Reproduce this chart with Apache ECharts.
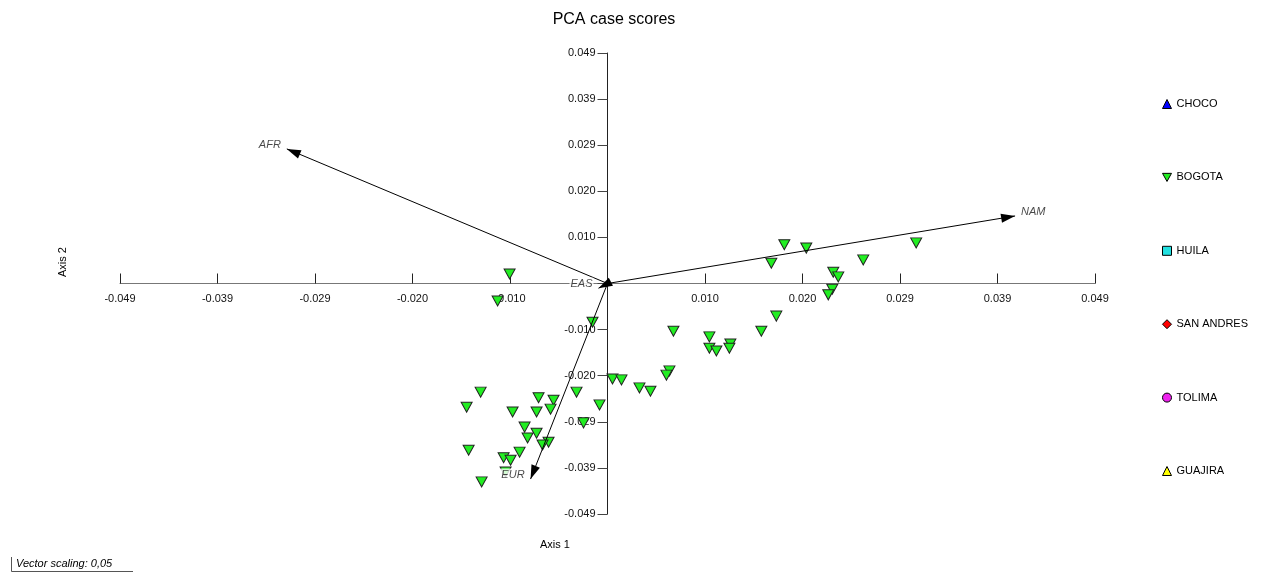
<!DOCTYPE html>
<html>
<head>
<meta charset="utf-8">
<title>PCA case scores</title>
<script src="https://cdn.jsdelivr.net/npm/echarts@6/dist/echarts.min.js"></script>
<style>
  html, body { margin: 0; padding: 0; background: #fff; }
  #chart { width: 1264px; height: 573px; }
</style>
</head>
<body>
<div id="chart"></div>
<script>
// Case scores for the BOGOTA group on the first two principal axes
const bogotaAxis1 = [0.0177, 0.0199, 0.0164, 0.0309, 0.0256, 0.0226, 0.0231, 0.0225, 0.0221, 0.0169,
  0.0154, 0.0066, 0.0102, 0.0102, 0.0109, 0.0123, 0.0122, 0.0062, 0.0059, -0.0015,
  0.0005, 0.0014, 0.0032, 0.0043, -0.0008, -0.0127, -0.0141, -0.0095, -0.0069, -0.0054,
  -0.0071, -0.0057, -0.0031, -0.0083, -0.0071, -0.0080, -0.0059, -0.0065, -0.0024, -0.0139,
  -0.0088, -0.0104, -0.0097, -0.0126, -0.0098, -0.0110, -0.0102];
const bogotaAxis2 = [0.0082, 0.0075, 0.0043, 0.0086, 0.0050, 0.0024, 0.0014, -0.0012, -0.0024, -0.0069,
  -0.0101, -0.0101, -0.0113, -0.0137, -0.0143, -0.0128, -0.0137, -0.0185, -0.0194, -0.0082,
  -0.0202, -0.0204, -0.0221, -0.0228, -0.0257, -0.0230, -0.0262, -0.0272, -0.0242, -0.0247,
  -0.0272, -0.0266, -0.0230, -0.0304, -0.0317, -0.0327, -0.0336, -0.0342, -0.0295, -0.0353,
  -0.0357, -0.0369, -0.0374, -0.0420, 0.0020, -0.0037, -0.0399];

// Ancestry loading vectors (vector scaling 0.05)
const vectorNames = ['AFR', 'NAM', 'EUR', 'EAS'];
const vectorAxis1 = [-0.0321, 0.0408, -0.0077, -0.0009];
const vectorAxis2 = [0.0285, 0.0143, -0.0414, -0.0010];
const vectorLabelSide = ['left', 'right', 'left', 'left'];

// Groups listed in the legend
const groupNames = ['CHOCO', 'BOGOTA', 'HUILA', 'SAN ANDRES', 'TOLIMA', 'GUAJIRA'];
const groupColors = ['#0000ff', '#22ee22', '#22e0e0', '#ff0000', '#ee22ee', '#ffff00'];
const groupSymbols = ['triangle', 'path://M0,0 L10,0 L5,9 Z', 'rect', 'diamond', 'circle', 'triangle'];

// Axis range and tick step shared by both axes
const axisMin = -0.0488;
const axisMax = 0.0488;
const axisStep = 0.00976;

const FONT = '"Liberation Sans", Arial, sans-serif';

// Plot area; both axes are drawn through the origin at its centre
const GRID = { left: 120, top: 53, width: 975, height: 461 };

const chart = echarts.init(document.getElementById('chart'), null, { renderer: 'canvas' });

function tickLabel(v) {
  if (Math.abs(v) < 1e-9) return '';
  return v.toFixed(3);
}

const groupData = { BOGOTA: bogotaAxis1.map((x, i) => [x, bogotaAxis2[i]]) };

const groupSeries = groupNames.map((name, i) => ({
  name: name,
  type: 'scatter',
  symbol: groupSymbols[i],
  symbolSize: name === 'BOGOTA' ? [11, 10] : 9,
  itemStyle: { color: groupColors[i], borderColor: '#222', borderWidth: 1, opacity: 1 },
  z: 2,
  data: groupData[name] || []
}));

// Arrow head whose apex sits at the centre of its box, so the tip lands on the vector end
const arrowHead = 'path://M5,14 L10,28 L0,28 Z M5,0';

const vectorLines = {
  type: 'lines',
  coordinateSystem: 'cartesian2d',
  silent: true,
  symbol: ['none', arrowHead],
  symbolSize: [10, [9, 28]],
  lineStyle: { color: '#000', width: 1, opacity: 1 },
  z: 3,
  data: vectorNames.map((n, i) => ({ coords: [[0, 0], [vectorAxis1[i], vectorAxis2[i]]] }))
};

const vectorLabels = {
  type: 'scatter',
  silent: true,
  symbolSize: 0,
  itemStyle: { color: 'transparent' },
  z: 4,
  data: vectorNames.map((n, i) => ({
    value: [vectorAxis1[i], vectorAxis2[i]],
    label: {
      show: true,
      formatter: n,
      position: vectorLabelSide[i],
      distance: 5,
      offset: [0, -4],
      fontStyle: 'italic',
      fontSize: 11,
      fontFamily: FONT,
      color: '#1a1a1a',
      backgroundColor: '#fff',
      padding: [1, 1]
    }
  }))
};

const option = {
  animation: false,
  backgroundColor: '#fff',
  title: {
    text: 'PCA case scores',
    left: 614,
    top: 12,
    padding: 0,
    textAlign: 'center',
    textStyle: { fontSize: 16, fontWeight: 'normal', color: '#000', fontFamily: FONT }
  },
  legend: {
    orient: 'vertical',
    left: 1162,
    top: 97.5,
    padding: 0,
    itemWidth: 9,
    itemHeight: 9,
    itemGap: 60.4,
    selectedMode: false,
    itemStyle: { borderColor: '#000', borderWidth: 1 },
    textStyle: { fontSize: 11, lineHeight: 13, color: '#000', fontFamily: FONT },
    data: groupNames.map((n, i) => ({ name: n, icon: groupSymbols[i] }))
  },
  grid: { left: GRID.left, top: GRID.top, width: GRID.width, height: GRID.height, containLabel: false, show: false },
  xAxis: {
    type: 'value',
    min: axisMin,
    max: axisMax,
    interval: axisStep,
    position: 'bottom',
    offset: -GRID.height / 2,
    axisLine: { show: true, onZero: false, lineStyle: { color: '#777', width: 1 } },
    axisTick: { show: true, inside: true, length: 10, lineStyle: { color: '#222' } },
    axisLabel: { margin: 10, fontSize: 11, color: '#111', fontFamily: FONT, formatter: tickLabel, showMinLabel: true, showMaxLabel: true },
    splitLine: { show: false }
  },
  yAxis: {
    type: 'value',
    min: axisMin,
    max: axisMax,
    interval: axisStep,
    position: 'left',
    offset: -GRID.width / 2,
    axisLine: { show: true, onZero: false, lineStyle: { color: '#222', width: 1 } },
    axisTick: { show: true, inside: false, length: 10, lineStyle: { color: '#444' } },
    axisLabel: { margin: 12, fontSize: 11, color: '#111', fontFamily: FONT, formatter: tickLabel, showMinLabel: true, showMaxLabel: true },
    splitLine: { show: false }
  },
  graphic: [
    {
      type: 'text', x: 555, y: 545,
      style: { text: 'Axis 1', align: 'center', verticalAlign: 'middle', font: '11px ' + FONT, fill: '#000' }
    },
    {
      type: 'text', x: 63, y: 262, rotation: Math.PI / 2,
      style: { text: 'Axis 2', align: 'center', verticalAlign: 'middle', font: '11px ' + FONT, fill: '#000' }
    },
    {
      type: 'text', x: 16, y: 564,
      style: { text: 'Vector scaling: 0,05', align: 'left', verticalAlign: 'middle', font: 'italic 11px ' + FONT, fill: '#000' }
    },
    {
      type: 'polyline',
      shape: { points: [[11.5, 557], [11.5, 571.5], [133, 571.5]] },
      style: { stroke: '#555', lineWidth: 1, fill: null }
    }
  ],
  series: groupSeries.concat([vectorLines, vectorLabels])
};

chart.setOption(option);
</script>
</body>
</html>
